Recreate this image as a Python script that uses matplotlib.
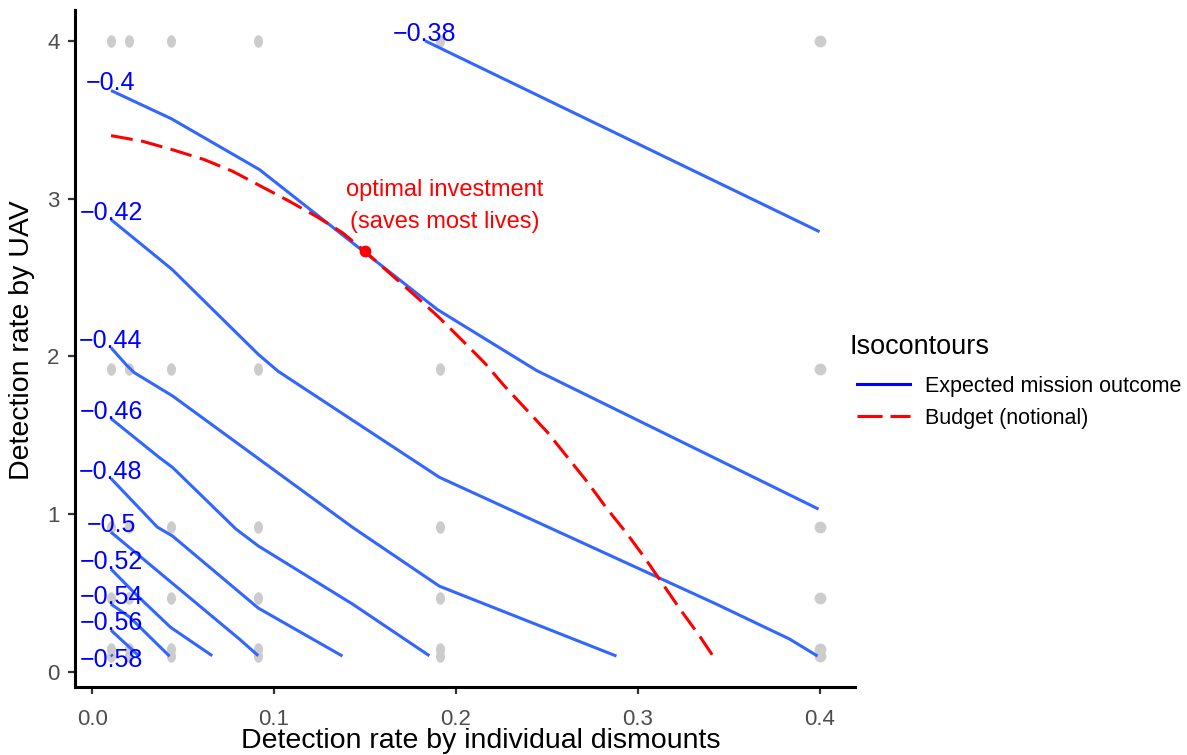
import matplotlib
matplotlib.use('Agg')
import matplotlib.pyplot as plt
from matplotlib.lines import Line2D
from matplotlib.path import Path
import matplotlib.transforms as mtransforms
import numpy as np

plt.rcParams['font.family'] = ['Liberation Sans', 'DejaVu Sans']

# ---------------- data ----------------
# grey design points (grid)
pt_x = [0.0105, 0.0204, 0.0435, 0.0913, 0.191, 0.4]
pt_y = [4.0, 1.92, 0.92, 0.47, 0.145, 0.10]

# contour levels (expected mission outcome)
levels = ["\u22120.38", "\u22120.4", "\u22120.42", "\u22120.44", "\u22120.46",
          "\u22120.48", "\u22120.5", "\u22120.52", "\u22120.54", "\u22120.56", "\u22120.58"]

c038_x = [0.183, 0.4]
c038_y = [4.0, 2.79]
c040_x = [0.0103, 0.0435, 0.0919, 0.1898, 0.2443, 0.3995]
c040_y = [3.685, 3.506, 3.184, 2.297, 1.911, 1.032]
c042_x = [0.0103, 0.044, 0.0913, 0.1023, 0.1909, 0.3433, 0.3835, 0.3989]
c042_y = [2.867, 2.55, 2.013, 1.905, 1.234, 0.430, 0.209, 0.101]
c044_x = [0.0103, 0.0185, 0.0231, 0.0442, 0.143, 0.1909, 0.2883]
c044_y = [2.055, 1.949, 1.897, 1.749, 0.918, 0.544, 0.101]
c046_x = [0.0103, 0.0369, 0.0442, 0.0791, 0.0913, 0.1432, 0.1854]
c046_y = [1.606, 1.359, 1.296, 0.905, 0.799, 0.430, 0.103]
c048_x = [0.0103, 0.0358, 0.0442, 0.0913, 0.1376]
c048_y = [1.226, 0.918, 0.861, 0.405, 0.101]
c050_x = [0.0103, 0.0809, 0.0913]
c050_y = [0.886, 0.209, 0.103]
c052_x = [0.0103, 0.0248, 0.0431, 0.066]
c052_y = [0.652, 0.483, 0.283, 0.103]
c054_x = [0.0103, 0.0204, 0.0425]
c054_y = [0.43, 0.35, 0.10]
c056_x = [0.0103, 0.0258]
c056_y = [0.265, 0.10]
c058_x = [0.0103, 0.0112]
c058_y = [0.11, 0.10]

contours_x = [c038_x, c040_x, c042_x, c044_x, c046_x, c048_x, c050_x,
              c052_x, c054_x, c056_x, c058_x]
contours_y = [c038_y, c040_y, c042_y, c044_y, c046_y, c048_y, c050_y,
              c052_y, c054_y, c056_y, c058_y]

# budget curve (notional)
budget_x = [0.0103, 0.0277, 0.0451, 0.0616, 0.0772, 0.0928, 0.1084, 0.1231,
            0.1377, 0.150, 0.1799, 0.1909, 0.2029, 0.2157, 0.2267, 0.2386,
            0.2505, 0.2615, 0.2725, 0.2826, 0.2936, 0.3037, 0.3138, 0.3239,
            0.3339, 0.3413]
budget_y = [3.399, 3.363, 3.306, 3.247, 3.173, 3.078, 2.983, 2.888,
            2.783, 2.665, 2.361, 2.245, 2.108, 1.960, 1.812, 1.665,
            1.517, 1.359, 1.201, 1.042, 0.884, 0.726, 0.557, 0.388,
            0.230, 0.103]

opt_x = 0.150
opt_y = 2.665
opt_text = "optimal investment\n(saves most lives)"

x_ticks = [0.0, 0.1, 0.2, 0.3, 0.4]
x_ticklabels = ["0.0", "0.1", "0.2", "0.3", "0.4"]
y_ticks = [0, 1, 2, 3, 4]
y_ticklabels = ["0", "1", "2", "3", "4"]

legend_title = "Isocontours"
legend_labels = ["Expected mission outcome", "Budget (notional)"]

# ---------------- figure ----------------
W, H, DPI = 1187, 755, 100
fig = plt.figure(figsize=(W / DPI, H / DPI), dpi=DPI)
ax = fig.add_axes([75 / W, 1 - 687 / H, (855 - 75) / W, (687 - 10) / H])

# grey points: oval marker
t = np.linspace(0, 2 * np.pi, 60)
oval = Path(np.column_stack([0.72 * np.cos(t), np.sin(t)]), closed=True)
gx, gy = np.meshgrid(pt_x, pt_y)
gx = gx.ravel(); gy = gy.ravel()
mask = gx < 0.39
ax.plot(gx[mask], gy[mask], linestyle='none', marker=oval, ms=9,
        color='#CCCCCC', mec='none', zorder=1)
ax.plot(gx[~mask], gy[~mask], linestyle='none', marker='o', ms=8.5,
        color='#CCCCCC', mec='none', zorder=1)

blue_line = '#3366FF'
n = len(levels)
for i, (cx, cy, lab) in enumerate(zip(contours_x, contours_y, levels)):
    ax.plot(cx, cy, color=blue_line, lw=2.2, solid_capstyle='butt', zorder=3)
    dy = 7 if i < n - 1 else -5
    off = mtransforms.offset_copy(ax.transData, fig=fig, x=0, y=dy, units='dots')
    ax.text(cx[0], cy[0], lab, transform=off, ha='center', va='center',
            color='#0000FF', fontsize=18, zorder=5)

# budget dashed curve
bl, = ax.plot(budget_x, budget_y, color='#FF0000', lw=2.2, zorder=4)
bl.set_dashes([7.2, 2.8])

ax.plot([opt_x], [opt_y], marker='o', ms=8.5, color='#FF0000', mec='none', zorder=6)
ax.text(0.194, 2.955, opt_text, ha='center', va='center', color='#FF0000',
        fontsize=17, linespacing=1.58)

ax.set_xlim(-0.0095, 0.4195)
ax.set_ylim(-0.095, 4.195)
ax.set_xticks(x_ticks)
ax.set_xticklabels(x_ticklabels)
ax.set_yticks(y_ticks)
ax.set_yticklabels(y_ticklabels)

for s in ['top', 'right']:
    ax.spines[s].set_visible(False)
for s in ['left', 'bottom']:
    ax.spines[s].set_linewidth(2.2)
    ax.spines[s].set_color('black')
    ax.spines[s].set_capstyle('projecting')

ax.tick_params(axis='x', length=5, width=1.6, color='#333333',
               labelcolor='#4D4D4D', labelsize=16, pad=11)
ax.tick_params(axis='y', length=5, width=1.6, color='#333333',
               labelcolor='#4D4D4D', labelsize=16, pad=6)

ax.set_xlabel("Detection rate by individual dismounts", fontsize=20.5, color='black')
ax.xaxis.set_label_coords((481 - 75) / 780, -(741 - 687) / 677)
ax.xaxis.label.set_va('center')
ax.set_ylabel("Detection rate by UAV", fontsize=20.5, color='black')
ax.yaxis.set_label_coords(-(75 - 22) / 780, (687 - 340) / 677)
ax.yaxis.label.set_va('center')

fig.text(850 / W, 1 - 347 / H, legend_title, fontsize=19.5, ha='left', va='center')
handles = [Line2D([], [], color='#0000FF', lw=2.2),
           Line2D([], [], color='#FF0000', lw=2.2, dashes=[8.2, 2.6])]
leg = ax.legend(handles, legend_labels, loc='upper left',
                bbox_to_anchor=(857 / W, 1 - 376 / H), bbox_transform=fig.transFigure,
                frameon=False, fontsize=15.5,
                handlelength=2.45, handletextpad=0.72, labelspacing=0.5,
                borderpad=0, borderaxespad=0)

fig.savefig('out.png', dpi=DPI)
